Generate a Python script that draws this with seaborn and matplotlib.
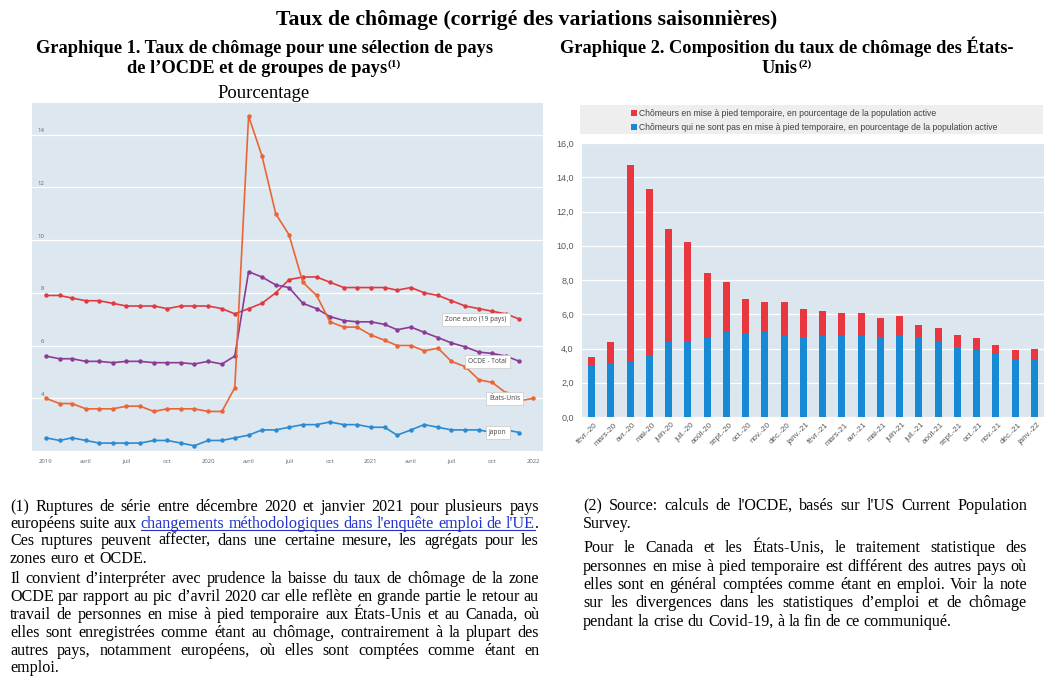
import matplotlib
matplotlib.use("Agg")
import matplotlib.pyplot as plt
import matplotlib.transforms as mtransforms
from matplotlib.patches import Rectangle
from matplotlib.lines import Line2D
import numpy as np
import pandas as pd
import seaborn as sns

# ---------------- DATA ----------------
title = "Taux de chômage (corrigé des variations saisonnières)"
g1_line1 = "Graphique 1. Taux de chômage pour une sélection de pays"
g1_line2 = "de l’OCDE et de groupes de pays"
g2_line1 = "Graphique 2. Composition du taux de chômage des États-"
g2_line2 = "Unis"
unit_label = "Pourcentage"

# Chart 1: monthly rates starting January 2019
start_month = "2019-01-01"
zone_euro = [7.9, 7.9, 7.8, 7.7, 7.7, 7.6, 7.5, 7.5, 7.5, 7.4, 7.5, 7.5,
             7.5, 7.4, 7.2, 7.4, 7.6, 8.0, 8.5, 8.6, 8.6, 8.4, 8.2, 8.2,
             8.2, 8.2, 8.1, 8.2, 8.0, 7.9, 7.7, 7.5, 7.4, 7.3, 7.2, 7.0]
ocde_total = [5.6, 5.5, 5.5, 5.4, 5.4, 5.35, 5.4, 5.4, 5.35, 5.35, 5.35, 5.3,
              5.4, 5.3, 5.6, 8.8, 8.6, 8.3, 8.2, 7.6, 7.4, 7.1, 6.95, 6.9,
              6.9, 6.8, 6.6, 6.7, 6.5, 6.3, 6.1, 5.95, 5.75, 5.7, 5.6, 5.4]
etats_unis = [4.0, 3.8, 3.8, 3.6, 3.6, 3.6, 3.7, 3.7, 3.5, 3.6, 3.6, 3.6,
              3.5, 3.5, 4.4, 14.7, 13.2, 11.0, 10.2, 8.4, 7.9, 6.9, 6.7, 6.7,
              6.4, 6.2, 6.0, 6.0, 5.8, 5.9, 5.4, 5.2, 4.7, 4.6, 4.2, 3.9, 4.0]
japon = [2.5, 2.4, 2.5, 2.4, 2.3, 2.3, 2.3, 2.3, 2.4, 2.4, 2.3, 2.2,
         2.4, 2.4, 2.5, 2.6, 2.8, 2.8, 2.9, 3.0, 3.0, 3.1, 3.0, 3.0,
         2.9, 2.9, 2.6, 2.8, 3.0, 2.9, 2.8, 2.8, 2.8, 2.7, 2.8, 2.7]
series_labels = ["Zone euro (19 pays)", "OCDE - Total", "États-Unis", "Japon"]
series_colors = ["#E03A41", "#8C3B95", "#EA6535", "#2B8BD2"]
left_xtick_dates = ["2019-01-01", "2019-04-01", "2019-07-01", "2019-10-01",
                    "2020-01-01", "2020-04-01", "2020-07-01", "2020-10-01",
                    "2021-01-01", "2021-04-01", "2021-07-01", "2021-10-01",
                    "2022-01-01"]
left_xtick_labels = ["2019", "avril", "juil", "oct", "2020", "avril", "juil", "oct",
                     "2021", "avril", "juil", "oct", "2022"]
left_yticks = [4, 6, 8, 10, 12, 14]
left_ytick_labels = ["4", "6", "8", "10", "12", "14"]

# Chart 2: US composition
bar_months = ["févr.-20", "mars-20", "avr.-20", "mai-20", "juin-20", "juil.-20",
              "août-20", "sept.-20", "oct.-20", "nov.-20", "déc.-20", "janv.-21",
              "févr.-21", "mars-21", "avr.-21", "mai-21", "juin-21", "juil.-21",
              "août-21", "sept.-21", "oct.-21", "nov.-21", "déc.-21", "janv.-22"]
not_temporary = [3.0, 3.1, 3.2, 3.6, 4.4, 4.4, 4.6, 5.0, 4.9, 5.0, 4.8, 4.7,
                 4.8, 4.75, 4.75, 4.6, 4.8, 4.6, 4.4, 4.1, 3.9, 3.7, 3.4, 3.4]
temporary = [0.5, 1.3, 11.5, 9.7, 6.6, 5.8, 3.8, 2.9, 2.0, 1.7, 1.9, 1.6,
             1.4, 1.3, 1.3, 1.2, 1.1, 0.8, 0.8, 0.7, 0.7, 0.5, 0.5, 0.6]
bar_legend = ["Chômeurs en mise à pied temporaire, en pourcentage de la population active",
              "Chômeurs qui ne sont pas en mise à pied temporaire, en pourcentage de la population active"]
bar_colors = ["#E8373F", "#178AD6"]
right_yticks = [0, 2, 4, 6, 8, 10, 12, 14, 16]
right_ytick_labels = ["0,0", "2,0", "4,0", "6,0", "8,0", "10,0", "12,0", "14,0", "16,0"]

left_notes = [
    "(1) Ruptures de série entre décembre 2020 et janvier 2021 pour plusieurs pays",
    "européens suite aux [changements méthodologiques dans l'enquête emploi de l'UE].",
    "Ces ruptures peuvent affecter, dans une certaine mesure, les agrégats pour les",
    "zones euro et OCDE.",
    "Il convient d’interpréter avec prudence la baisse du taux de chômage de la zone",
    "OCDE par rapport au pic d’avril 2020 car elle reflète en grande partie le retour au",
    "travail de personnes en mise à pied temporaire aux États-Unis et au Canada, où",
    "elles sont enregistrées comme étant au chômage, contrairement à la plupart des",
    "autres pays, notamment européens, où elles sont comptées comme étant en",
    "emploi.",
]
left_justify = [True, True, True, False, True, True, True, True, True, False]
right_notes = [
    "(2) Source: calculs de l'OCDE, basés sur l'US Current Population",
    "Survey.",
    "Pour le Canada et les États-Unis, le traitement statistique des",
    "personnes en mise à pied temporaire est différent des autres pays où",
    "elles sont en général comptées comme étant en emploi. Voir la note",
    "sur les divergences dans les statistiques d’emploi et de chômage",
    "pendant la crise du Covid-19, à la fin de ce communiqué.",
]
right_justify = [True, False, True, True, True, True, False]

# ---------------- FIGURE ----------------
W, H = 1055, 683
fig = plt.figure(figsize=(W / 100, H / 100), dpi=100)
fig.patch.set_facecolor("white")
renderer = fig.canvas.get_renderer()

SERIF = ["Liberation Serif", "DejaVu Serif"]
SANS = ["Open Sans", "DejaVu Sans"]
NARROW = ["Liberation Sans Narrow", "Liberation Sans", "DejaVu Sans"]


def fx(x):
    return x / W


def fy(y):
    return 1 - y / H


def axes_px(x0, y0, x1, y1):
    return fig.add_axes([fx(x0), fy(y1), (x1 - x0) / W, (y1 - y0) / H])


def text_width(s, size, **kw):
    t = fig.text(0, 0, s, fontsize=size, **kw)
    w = t.get_window_extent(renderer).width
    t.remove()
    return w


def fit(s, target, **kw):
    return 10 * target / text_width(s, 10, **kw)


# ---------------- HEADINGS ----------------
HEAD = dict(family=SERIF, fontweight="bold", color="black")
ts = fit(title, 500, **HEAD)
fig.text(fx(527), fy(25), title, ha="center", va="baseline", fontsize=ts, **HEAD)

ss = fit(g1_line1, 456, **HEAD)
sup_size = ss * 0.62


def heading_sup(main, sup, cx, base):
    wm = text_width(main, ss, **HEAD)
    wsp = text_width(sup, sup_size, **HEAD)
    x0 = cx - (wm + wsp + 1) / 2
    fig.text(fx(x0), fy(base), main, ha="left", va="baseline", fontsize=ss, **HEAD)
    fig.text(fx(x0 + wm + 1), fy(base - 6), sup, ha="left", va="baseline",
             fontsize=sup_size, **HEAD)


fig.text(fx(265), fy(53), g1_line1, ha="center", va="baseline", fontsize=ss, **HEAD)
heading_sup(g1_line2, "(1)", 264, 73)
fig.text(fx(787), fy(53), g2_line1, ha="center", va="baseline", fontsize=ss, **HEAD)
heading_sup(g2_line2, "(2)", 787, 73)

us_size = fit(unit_label, 92, family=SERIF)
fig.text(fx(264), fy(98), unit_label, ha="center", va="baseline", fontsize=us_size,
         family=SERIF, color="black")

# ---------------- CHART 1 ----------------
ax1 = axes_px(32, 103, 543, 451)
ax1.set_facecolor("#DDE7EF")
for sp in ax1.spines.values():
    sp.set_visible(False)

all_series = [zone_euro, ocde_total, etats_unis, japon]
for vals, col in zip(all_series, series_colors):
    dates = pd.date_range(start_month, periods=len(vals), freq="MS")
    sns.lineplot(x=dates, y=vals, color=col, linewidth=1.2, marker="o",
                 markersize=3.2, markeredgewidth=0, ax=ax1, zorder=3)

ax1.set_ylim(2.0, 15.2)
ax1.set_xlim(pd.Timestamp("2018-12-01"), pd.Timestamp("2022-01-23"))
ax1.set_yticks(left_yticks)
ax1.set_yticklabels([])
ax1.yaxis.grid(True, color="white", linewidth=0.9)
ax1.xaxis.grid(False)
ax1.set_axisbelow(True)
ax1.tick_params(axis="y", length=0)
ax1.set_xticks(pd.to_datetime(left_xtick_dates))
ax1.set_xticklabels(left_xtick_labels, fontsize=4.3, color="#666666", family=SANS)
ax1.tick_params(axis="x", length=2.5, color="white", pad=3)
ax1.set_xlabel("")
ax1.set_ylabel("")
ytrans = mtransforms.blended_transform_factory(ax1.transAxes, ax1.transData)
for v, lab in zip(left_yticks, left_ytick_labels):
    ax1.text(0.0235, v + 0.05, lab, transform=ytrans, ha="right", va="bottom",
             fontsize=4.3, color="#666666", family=SANS)

for vals, lab in zip(all_series, series_labels):
    dates = pd.date_range(start_month, periods=len(vals), freq="MS")
    ax1.annotate(lab, xy=(dates[-1], vals[-1]), xytext=(-9.2, 0),
                 textcoords="offset points", ha="right", va="center",
                 fontsize=4.8, color="#444444", family=SANS, zorder=6,
                 bbox=dict(boxstyle="square,pad=0.45", fc="white", ec="#c8c8c8", lw=0.5))

# ---------------- CHART 2 ----------------
fig.patches.append(Rectangle((fx(580), fy(134)), (1043 - 580) / W, (134 - 105) / H,
                             transform=fig.transFigure, facecolor="#EEEEEE",
                             edgecolor="none", zorder=0))
leg_size = fit(bar_legend[1], 357, family=NARROW)
for i, (lab, col) in enumerate(zip(bar_legend, bar_colors)):
    yc = 113.3 + 14 * i
    fig.patches.append(Rectangle((fx(631), fy(yc + 3)), 6 / W, 6 / H,
                                 transform=fig.transFigure, facecolor=col,
                                 edgecolor="none", zorder=1))
    fig.text(fx(639), fy(yc), lab, ha="left", va="center", fontsize=leg_size,
             family=NARROW, color="#404040")

ax2 = axes_px(582, 143, 1044, 417)
ax2.set_facecolor("#DCE6EE")
for sp in ax2.spines.values():
    sp.set_visible(False)
totals = [a + b for a, b in zip(not_temporary, temporary)]
sns.barplot(x=bar_months, y=totals, order=bar_months, color=bar_colors[0],
            saturation=1, width=0.37, linewidth=0, ax=ax2, zorder=2)
sns.barplot(x=bar_months, y=not_temporary, order=bar_months, color=bar_colors[1],
            saturation=1, width=0.37, linewidth=0, ax=ax2, zorder=3)
ax2.set_ylim(0, 16)
ax2.set_xlim(-0.5, len(bar_months) - 0.5)
ax2.set_yticks(right_yticks)
ytl_size = fit("16,0", 17.5, family=NARROW)
ax2.set_yticklabels(right_ytick_labels, fontsize=ytl_size, family=NARROW, color="#595959")
ax2.yaxis.grid(True, color="white", linewidth=0.9)
ax2.set_axisbelow(True)
ax2.tick_params(axis="y", length=0, pad=6)
ax2.set_xlabel("")
ax2.set_ylabel("")
xtl_size = fit("févr.-20", 27, family=NARROW)
ax2.set_xticks(range(len(bar_months)))
ax2.set_xticklabels(bar_months, fontsize=xtl_size, family=NARROW, color="#595959")
ax2.tick_params(axis="x", length=0, pad=5)
offset = mtransforms.ScaledTranslation(5 / 100, 0, fig.dpi_scale_trans)
for lab in ax2.get_xticklabels():
    lab.set_rotation(45)
    lab.set_ha("right")
    lab.set_va("center")
    lab.set_rotation_mode("anchor")
    lab.set_transform(lab.get_transform() + offset)

# ---------------- FOOTNOTES ----------------
BODY = dict(family=SERIF)
body_size = fit("zones euro et OCDE.", 137, **BODY)
LINK = "#2233CC"
space_w = text_width("x x", body_size, **BODY) - text_width("xx", body_size, **BODY)


def parse(line):
    words = []
    link = False
    for tok in line.split(" "):
        pieces = []
        cur = ""
        for ch in tok:
            if ch == "[":
                if cur:
                    pieces.append((cur, link))
                cur = ""
                link = True
            elif ch == "]":
                if cur:
                    pieces.append((cur, link))
                cur = ""
                link = False
            else:
                cur += ch
        if cur:
            pieces.append((cur, link))
        words.append(pieces)
    return words


def draw_block(lines, justify, x0, x1, baselines):
    for line, just, base in zip(lines, justify, baselines):
        words = parse(line)
        widths = [[text_width(p, body_size, **BODY) for p, _ in w] for w in words]
        wsum = sum(sum(w) for w in widths)
        if just and len(words) > 1:
            gap = (x1 - x0 - wsum) / (len(words) - 1)
        else:
            gap = space_w
        x = x0
        link_start, link_end = None, None
        for w, ws in zip(words, widths):
            for (p, lk), pw in zip(w, ws):
                fig.text(fx(x), fy(base), p, ha="left", va="baseline",
                         fontsize=body_size, color=LINK if lk else "black", **BODY)
                if lk:
                    if link_start is None:
                        link_start = x
                    link_end = x + pw
                x += pw
            x += gap
        if link_start is not None:
            fig.add_artist(Line2D([fx(link_start), fx(link_end)],
                                  [fy(base + 2), fy(base + 2)],
                                  transform=fig.transFigure, color=LINK, lw=0.8))


draw_block(left_notes, left_justify, 10, 539,
           [511, 528, 545, 563, 583, 601, 619, 637, 655, 672])
draw_block(right_notes, right_justify, 583, 1027,
           [510, 528, 552, 571, 589, 607, 626])

fig.savefig("out.png", dpi=100, facecolor="white")
